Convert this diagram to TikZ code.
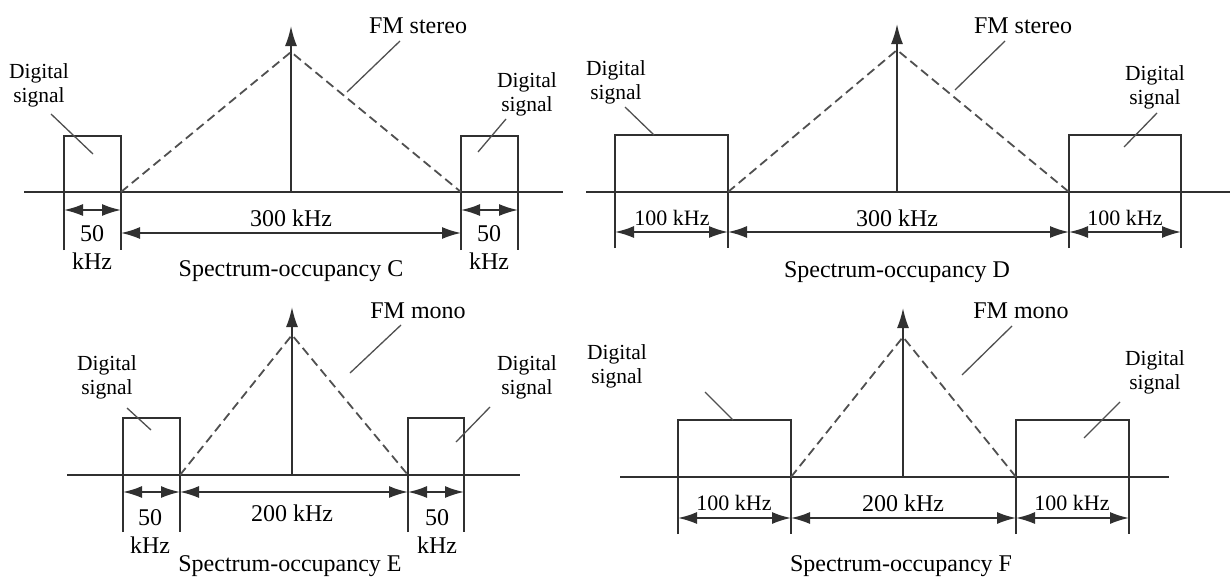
\documentclass[tikz,border=0pt]{standalone}
\usepackage{fontspec}
\setmainfont{Liberation Serif}
\usetikzlibrary{arrows.meta}
\definecolor{ln}{HTML}{303030}
\definecolor{dl}{HTML}{505050}
\begin{document}
\begin{tikzpicture}[x=1pt,y=-1pt,
  ln/.style={draw=ln,line width=1.8pt},
  dsh/.style={draw=dl,line width=1.8pt,dash pattern=on 9pt off 5pt},
  dim/.style={draw=ln,line width=1.8pt,{Latex[length=19pt,width=12pt]}-{Latex[length=19pt,width=12pt]}},
  up/.style={draw=ln,line width=1.8pt,-{Latex[length=20pt,width=12pt]}},
  lead/.style={draw=dl,line width=1.3pt},
  big/.style={font=\fontsize{24}{26}\selectfont,inner sep=0pt},
  sml/.style={font=\fontsize{21.5}{24}\selectfont,inner sep=0pt,align=center},
  mid/.style={font=\fontsize{22}{24}\selectfont,inner sep=0pt}]
\useasboundingbox (0,0) rectangle (1230,581);
\fill[white] (0,0) rectangle (1230,581);

% ================= Panel C =================
\coordinate (cB0) at (24,192); \coordinate (cB1) at (563,192);
\draw[ln] (cB0) -- (cB1);
\coordinate (cL1) at (64,250); \coordinate (cL2) at (64,136); \coordinate (cL3) at (121,136); \coordinate (cL4) at (121,250);
\draw[ln] (cL1) -- (cL2) -- (cL3) -- (cL4);
\coordinate (cR1) at (461,250); \coordinate (cR2) at (461,136); \coordinate (cR3) at (518,136); \coordinate (cR4) at (518,250);
\draw[ln] (cR1) -- (cR2) -- (cR3) -- (cR4);
\coordinate (cA0) at (291,192); \coordinate (cA1) at (291,26);
\draw[up] (cA0) -- (cA1);
\coordinate (cT1) at (121,192); \coordinate (cTa) at (291,52); \coordinate (cT2) at (461,192);
\draw[dsh] (cT1) -- (cTa) -- (cT2);
\coordinate (cd1) at (64,210); \coordinate (cd2) at (121,210);
\coordinate (cd3) at (121,233); \coordinate (cd4) at (461,233);
\coordinate (cd5) at (461,210); \coordinate (cd6) at (518,210);
\draw[dim] (cd1) -- (cd2);
\draw[dim] (cd3) -- (cd4);
\draw[dim] (cd5) -- (cd6);
\node[big] (c300) at (291,218) {300 kHz};
\node[big] (c50a) at (92,234) {50};
\node[big] (ckHa) at (92,261) {kHz};
\node[big] (c50b) at (489,234) {50};
\node[big] (ckHb) at (489,261) {kHz};
\node[big] (cTit) at (291,271) {Spectrum-occupancy C};
\node[big] (cFM) at (418,26) {FM stereo};
\coordinate (cFMa) at (400,41); \coordinate (cFMb) at (347,92);
\draw[lead] (cFMa) -- (cFMb);
\node[sml] (cDL) at (39,85) {Digital\\signal};
\coordinate (cDLa) at (51,114); \coordinate (cDLb) at (93,154);
\draw[lead] (cDLa) -- (cDLb);
\node[sml] (cDR) at (527,94) {Digital\\signal};
\coordinate (cDRa) at (506,119); \coordinate (cDRb) at (478,152);
\draw[lead] (cDRa) -- (cDRb);

% ================= Panel D =================
\coordinate (dB0) at (586,192); \coordinate (dB1) at (1230,192);
\draw[ln] (dB0) -- (dB1);
\coordinate (dL1) at (615,248); \coordinate (dL2) at (615,135); \coordinate (dL3) at (728,135); \coordinate (dL4) at (728,248);
\draw[ln] (dL1) -- (dL2) -- (dL3) -- (dL4);
\coordinate (dR1) at (1069,248); \coordinate (dR2) at (1069,135); \coordinate (dR3) at (1181,135); \coordinate (dR4) at (1181,248);
\draw[ln] (dR1) -- (dR2) -- (dR3) -- (dR4);
\coordinate (dA0) at (897,192); \coordinate (dA1) at (897,24);
\draw[up] (dA0) -- (dA1);
\coordinate (dT1) at (728,192); \coordinate (dTa) at (897,50); \coordinate (dT2) at (1069,192);
\draw[dsh] (dT1) -- (dTa) -- (dT2);
\coordinate (dd1) at (615,232); \coordinate (dd2) at (728,232);
\coordinate (dd3) at (728,232); \coordinate (dd4) at (1069,232);
\coordinate (dd5) at (1069,232); \coordinate (dd6) at (1181,232);
\draw[dim] (dd1) -- (dd2);
\draw[dim] (dd3) -- (dd4);
\draw[dim] (dd5) -- (dd6);
\node[mid] (d100a) at (672,218) {100 kHz};
\node[big] (d300) at (897,218) {300 kHz};
\node[mid] (d100b) at (1125,218) {100 kHz};
\node[big] (dTit) at (897,272) {Spectrum-occupancy D};
\node[big] (dFM) at (1023,26) {FM stereo};
\coordinate (dFMa) at (1005,41); \coordinate (dFMb) at (955,90);
\draw[lead] (dFMa) -- (dFMb);
\node[sml] (dDL) at (616,82) {Digital\\signal};
\coordinate (dDLa) at (625,107); \coordinate (dDLb) at (654,135);
\draw[lead] (dDLa) -- (dDLb);
\node[sml] (dDR) at (1155,87) {Digital\\signal};
\coordinate (dDRa) at (1157,113); \coordinate (dDRb) at (1124,147);
\draw[lead] (dDRa) -- (dDRb);

% ================= Panel E =================
\coordinate (eB0) at (67,475); \coordinate (eB1) at (520,475);
\draw[ln] (eB0) -- (eB1);
\coordinate (eL1) at (123,532); \coordinate (eL2) at (123,418); \coordinate (eL3) at (180,418); \coordinate (eL4) at (180,532);
\draw[ln] (eL1) -- (eL2) -- (eL3) -- (eL4);
\coordinate (eR1) at (408,532); \coordinate (eR2) at (408,418); \coordinate (eR3) at (464,418); \coordinate (eR4) at (464,532);
\draw[ln] (eR1) -- (eR2) -- (eR3) -- (eR4);
\coordinate (eA0) at (292,475); \coordinate (eA1) at (292,307);
\draw[up] (eA0) -- (eA1);
\coordinate (eT1) at (180,475); \coordinate (eTa) at (292,335); \coordinate (eT2) at (408,475);
\draw[dsh] (eT1) -- (eTa) -- (eT2);
\coordinate (ed1) at (123,492); \coordinate (ed2) at (180,492);
\coordinate (ed3) at (180,492); \coordinate (ed4) at (408,492);
\coordinate (ed5) at (408,492); \coordinate (ed6) at (464,492);
\draw[dim] (ed1) -- (ed2);
\draw[dim] (ed3) -- (ed4);
\draw[dim] (ed5) -- (ed6);
\node[big] (e200) at (292,513) {200 kHz};
\node[big] (e50a) at (150,518) {50};
\node[big] (ekHa) at (150,545) {kHz};
\node[big] (e50b) at (437,518) {50};
\node[big] (ekHb) at (437,545) {kHz};
\node[big] (eTit) at (290,566) {Spectrum-occupancy E};
\node[big] (eFM) at (418,311) {FM mono};
\coordinate (eFMa) at (401,325); \coordinate (eFMb) at (350,373);
\draw[lead] (eFMa) -- (eFMb);
\node[sml] (eDL) at (107,377) {Digital\\signal};
\coordinate (eDLa) at (127,408); \coordinate (eDLb) at (151,430);
\draw[lead] (eDLa) -- (eDLb);
\node[sml] (eDR) at (527,377) {Digital\\signal};
\coordinate (eDRa) at (490,407); \coordinate (eDRb) at (456,442);
\draw[lead] (eDRa) -- (eDRb);

% ================= Panel F =================
\coordinate (fB0) at (620,477); \coordinate (fB1) at (1169,477);
\draw[ln] (fB0) -- (fB1);
\coordinate (fL1) at (678,534); \coordinate (fL2) at (678,420); \coordinate (fL3) at (791,420); \coordinate (fL4) at (791,534);
\draw[ln] (fL1) -- (fL2) -- (fL3) -- (fL4);
\coordinate (fR1) at (1016,534); \coordinate (fR2) at (1016,420); \coordinate (fR3) at (1129,420); \coordinate (fR4) at (1129,534);
\draw[ln] (fR1) -- (fR2) -- (fR3) -- (fR4);
\coordinate (fA0) at (903,477); \coordinate (fA1) at (903,308);
\draw[up] (fA0) -- (fA1);
\coordinate (fT1) at (791,477); \coordinate (fTa) at (903,337); \coordinate (fT2) at (1016,477);
\draw[dsh] (fT1) -- (fTa) -- (fT2);
\coordinate (fd1) at (678,518); \coordinate (fd2) at (791,518);
\coordinate (fd3) at (791,518); \coordinate (fd4) at (1016,518);
\coordinate (fd5) at (1016,518); \coordinate (fd6) at (1129,518);
\draw[dim] (fd1) -- (fd2);
\draw[dim] (fd3) -- (fd4);
\draw[dim] (fd5) -- (fd6);
\node[mid] (f100a) at (734,503) {100 kHz};
\node[big] (f200) at (903,503) {200 kHz};
\node[mid] (f100b) at (1072,503) {100 kHz};
\node[big] (fTit) at (901,566) {Spectrum-occupancy F};
\node[big] (fFM) at (1021,311) {FM mono};
\coordinate (fFMa) at (1012,326); \coordinate (fFMb) at (962,375);
\draw[lead] (fFMa) -- (fFMb);
\node[sml] (fDL) at (617,366) {Digital\\signal};
\coordinate (fDLa) at (705,392); \coordinate (fDLb) at (733,420);
\draw[lead] (fDLa) -- (fDLb);
\node[sml] (fDR) at (1155,372) {Digital\\signal};
\coordinate (fDRa) at (1120,402); \coordinate (fDRb) at (1084,438);
\draw[lead] (fDRa) -- (fDRb);
\end{tikzpicture}
\end{document}
